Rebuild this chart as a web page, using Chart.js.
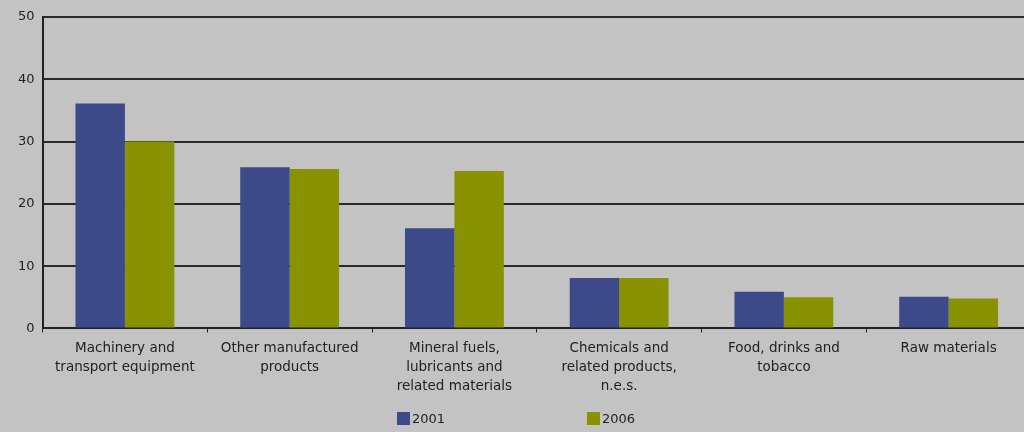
<!DOCTYPE html>
<html>
<head>
<meta charset="utf-8">
<script src="https://cdn.jsdelivr.net/npm/chart.js@4.4.0/dist/chart.umd.min.js"></script>
<style>
  html, body { margin: 0; padding: 0; background: #c3c3c3; overflow: hidden; }
  #wrap { position: relative; width: 1040px; height: 432px; }
  #legend { position: absolute; top: 411px; left: 397px; font: 13px "DejaVu Sans", sans-serif; color: #222; }
  #legend span.item { position: absolute; white-space: nowrap; }
  #legend i { display: inline-block; width: 13px; height: 13px; vertical-align: -2px; margin-right: 2px; }
</style>
</head>
<body>
<div id="wrap">
  <canvas id="chart" width="1040" height="432"></canvas>
  <div id="legend"></div>
</div>
<script>
// Datos del gráfico
const categorias = [
    ['Machinery and', 'transport equipment'],
    ['Other manufactured', 'products'],
    ['Mineral fuels,', 'lubricants and', 'related materials'],
    ['Chemicals and', 'related products,', 'n.e.s.'],
    ['Food, drinks and', 'tobacco'],
    ['Raw materials']
];
const valores2001 = [36.1, 25.9, 16.1, 8.1, 5.9, 5.1];
const valores2006 = [30.0, 25.6, 25.3, 8.1, 5.0, 4.8];
const seriesNombres = ['2001', '2006'];
const colores = ['#3c4a8a', '#899200'];

const fuente = { family: '"DejaVu Sans", sans-serif', size: 13 };

const chart = new Chart(document.getElementById('chart'), {
    type: 'bar',
    data: {
        labels: categorias,
        datasets: [
            { label: seriesNombres[0], data: valores2001, backgroundColor: colores[0] },
            { label: seriesNombres[1], data: valores2006, backgroundColor: colores[1] }
        ]
    },
    options: {
        responsive: false,
        animation: false,
        layout: { padding: { left: 10, top: 17, right: 9, bottom: 30 } },
        datasets: { bar: { categoryPercentage: 0.6, barPercentage: 1.0 } },
        scales: {
            x: {
                grid: {
                    offset: true,
                    drawOnChartArea: false,
                    drawTicks: true,
                    tickLength: 4,
                    color: '#222',
                    lineWidth: 1
                },
                border: { display: true, color: '#222', width: 2 },
                ticks: {
                    color: '#222',
                    font: { family: fuente.family, size: 13.5, lineHeight: 1.42 },
                    padding: 6,
                    maxRotation: 0,
                    autoSkip: false
                }
            },
            y: {
                min: 0,
                max: 50,
                ticks: { stepSize: 10, color: '#222', font: fuente, padding: 8 },
                grid: { color: '#2a2a2a', lineWidth: 2, drawTicks: false },
                border: { display: true, color: '#222', width: 2 }
            }
        },
        plugins: {
            legend: { display: false },
            tooltip: { enabled: false }
        }
    }
});

// Leyenda en HTML (espaciado amplio como en el original)
const leyenda = document.getElementById('legend');
chart.data.datasets.forEach(function (ds, i) {
    const item = document.createElement('span');
    item.className = 'item';
    item.style.left = (i * 190) + 'px';
    item.innerHTML = '<i style="background:' + ds.backgroundColor + '"></i>' + ds.label;
    leyenda.appendChild(item);
});
</script>
</body>
</html>
